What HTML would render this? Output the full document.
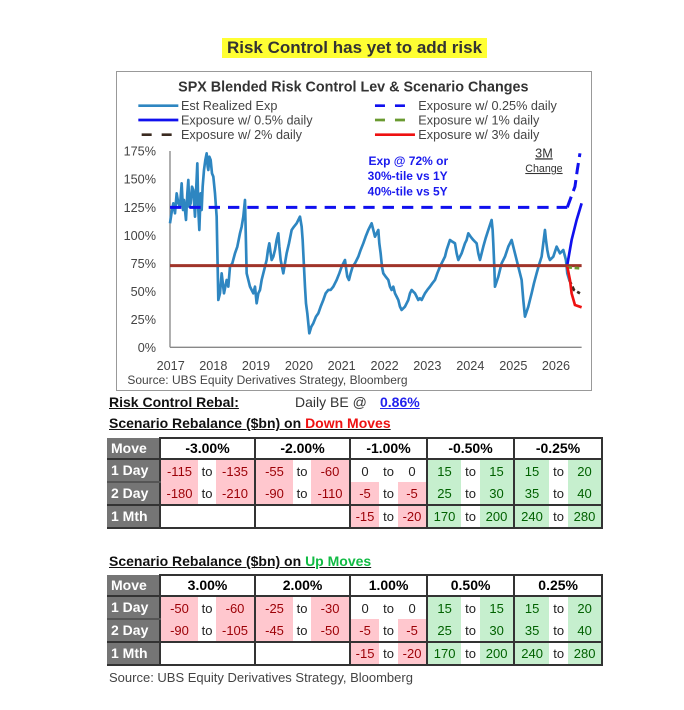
<!DOCTYPE html>
<html><head><meta charset="utf-8"><style>
body{margin:0;width:684px;height:710px;background:#fff;position:relative;font-family:"Liberation Sans",sans-serif;overflow:hidden}
.abs{position:absolute}
table{border-collapse:collapse;table-layout:fixed;position:absolute;left:107px;width:495px;font-size:13px}
td{padding:0;text-align:center;white-space:nowrap;overflow:hidden;height:21px;line-height:21px}
td.m{background:#757575;color:#fff;font-weight:bold;text-align:left;padding-left:4px;font-size:14px;border-right:2px solid #333;border-bottom:2px solid #555}
th{font-size:14px;height:19px;line-height:19px;border:2px solid #333;background:#fff;padding:0}
.p{background:#ffc7ce;color:#9c0006}.g{background:#c6efce;color:#006100}.w{background:#fff;color:#222}
.r{border-right:2px solid #333}
.b td{border-bottom:2px solid #333}
.t{font-weight:bold;text-decoration:underline;font-size:14px;color:#111}
</style></head><body>
<div class="abs" style="left:222px;top:38px;width:265px;height:20px;background:#ffff33"></div>
<div class="abs" style="left:222px;top:38px;width:265px;height:20px;line-height:20px;text-align:center;font-weight:bold;font-size:17px;color:#333">Risk Control has yet to add risk</div>
<div class="abs" style="left:116px;top:71px;width:474px;height:318px;border:1px solid #999"></div>
<svg class="abs" style="left:0;top:0" width="684" height="400">
<g transform="translate(110,60) scale(0.3333)">
<text x="730" y="95" font-size="43" font-weight="bold" fill="#333" text-anchor="middle" font-family="Liberation Sans">SPX Blended Risk Control Lev  &amp; Scenario Changes</text>
<g font-size="38" fill="#444" font-family="Liberation Sans">
<line x1="85" y1="137" x2="205" y2="137" stroke="#2e86c1" stroke-width="8"/><text x="213" y="150">Est Realized Exp</text>
<line x1="85" y1="180" x2="205" y2="180" stroke="#1010ee" stroke-width="8"/><text x="213" y="193">Exposure w/ 0.5% daily</text>
<line x1="95" y1="224" x2="205" y2="224" stroke="#3a2a20" stroke-width="8" stroke-dasharray="30,30"/><text x="213" y="237">Exposure w/ 2% daily</text>
<line x1="795" y1="137" x2="910" y2="137" stroke="#1010ee" stroke-width="8" stroke-dasharray="30,30"/><text x="925" y="150">Exposure w/ 0.25% daily</text>
<line x1="795" y1="180" x2="910" y2="180" stroke="#6a9a30" stroke-width="8" stroke-dasharray="30,30"/><text x="925" y="193">Exposure w/ 1% daily</text>
<line x1="795" y1="224" x2="915" y2="224" stroke="#ee1111" stroke-width="8"/><text x="925" y="237">Exposure w/ 3% daily</text>
</g>
<g font-size="38" fill="#444" text-anchor="end" font-family="Liberation Sans">
<text x="138" y="287">175%</text><text x="138" y="371">150%</text><text x="138" y="456">125%</text><text x="138" y="540">100%</text><text x="138" y="624">75%</text><text x="138" y="708">50%</text><text x="138" y="792">25%</text><text x="138" y="876">0%</text>
</g>
<g font-size="38" fill="#444" text-anchor="middle" font-family="Liberation Sans">
<text x="182" y="930">2017</text><text x="310" y="930">2018</text><text x="438" y="930">2019</text><text x="567" y="930">2020</text><text x="695" y="930">2021</text><text x="824" y="930">2022</text><text x="952" y="930">2023</text><text x="1081" y="930">2024</text><text x="1210" y="930">2025</text><text x="1338" y="930">2026</text>
</g>
<text x="52" y="972" font-size="36" fill="#444" font-family="Liberation Sans">Source: UBS Equity Derivatives Strategy, Bloomberg</text>
<g font-size="36" font-weight="bold" fill="#1a1aee" text-anchor="middle" font-family="Liberation Sans">
<text x="895" y="315">Exp @ 72% or</text><text x="893" y="360">30%-tile vs 1Y</text><text x="893" y="406">40%-tile vs 5Y</text></g>
<text x="1302" y="292" font-size="38" fill="#333" text-anchor="middle" text-decoration="underline" font-family="Liberation Sans">3M</text>
<text x="1302" y="336" font-size="32" fill="#333" text-anchor="middle" text-decoration="underline" font-family="Liberation Sans">Change</text>
<line x1="180" y1="273" x2="180" y2="862" stroke="#888" stroke-width="4"/>
<line x1="180" y1="862" x2="1415" y2="862" stroke="#888" stroke-width="4"/>
<polyline fill="none" stroke="#2e86c1" stroke-width="8" stroke-linejoin="round" points="180,490 186,450 190,430 195,460 200,400 205,430 210,440 215,370 219,450 222,420 228,480 232,400 235,360 238,440 242,430 246,380 250,390 255,470 258,400 262,310 265,450 268,510 272,400 275,450 278,380 282,330 286,300 290,280 293,320 295,330 298,290 302,300 306,340 310,350 313,380 315,400 320,470 325,720 330,700 335,640 342,700 350,660 355,680 360,620 367,610 375,580 382,560 390,520 395,500 400,470 405,420 410,640 415,660 420,680 425,690 430,700 435,680 440,730 445,700 450,690 455,660 460,640 465,620 470,600 474,570 478,550 482,580 485,600 490,590 495,570 500,540 505,520 508,560 512,600 516,620 520,640 525,610 530,580 537,550 545,510 552,500 560,490 565,480 570,470 575,500 578,540 582,620 585,680 588,730 592,760 598,820 604,800 610,790 618,770 625,760 632,740 640,720 647,700 655,690 662,690 670,680 675,670 680,660 688,640 695,620 700,610 705,600 709,630 712,650 717,660 722,640 728,620 735,610 740,600 745,590 752,570 760,550 767,530 775,510 780,500 785,490 790,510 795,530 800,520 805,510 808,550 812,580 816,620 820,640 827,650 835,660 840,680 845,690 850,680 855,700 860,710 865,720 870,740 875,750 880,745 885,740 890,730 895,720 900,700 905,690 910,695 915,700 920,710 925,720 930,715 935,720 940,710 945,700 952,690 960,680 967,670 975,660 982,640 990,620 995,610 1000,600 1005,590 1010,570 1015,555 1020,540 1027,545 1035,550 1040,580 1045,600 1050,590 1055,580 1060,565 1065,550 1070,540 1075,520 1082,530 1090,540 1095,545 1100,550 1105,580 1110,600 1115,580 1120,560 1127,535 1135,510 1140,495 1145,480 1148,510 1150,550 1153,620 1155,680 1160,665 1165,650 1170,630 1175,610 1180,600 1185,590 1190,575 1195,560 1200,550 1205,540 1210,560 1215,580 1220,600 1225,620 1230,640 1235,660 1240,720 1245,770 1250,755 1255,740 1260,720 1265,700 1272,670 1280,640 1287,615 1295,590 1300,550 1305,510 1308,540 1312,570 1316,590 1320,600 1325,595 1330,590 1335,575 1340,560 1345,570 1350,580 1355,575 1360,570 1364,585 1368,600 1372,640 1378,660"/>
<line x1="180" y1="442" x2="1372" y2="442" stroke="#1010ee" stroke-width="9" stroke-dasharray="34,24"/>
<polyline fill="none" stroke="#1010ee" stroke-width="9" stroke-dasharray="34,18" points="1372,442 1395,380 1402,330 1410,280"/>
<polyline fill="none" stroke="#1010ee" stroke-width="8" points="1372,615 1385,540 1400,480 1415,430"/>
<line x1="180" y1="617" x2="1415" y2="617" stroke="#a0342a" stroke-width="9"/>
<line x1="1372" y1="622" x2="1410" y2="625" stroke="#6a9a30" stroke-width="8" stroke-dasharray="14,8"/>
<polyline fill="none" stroke="#3a2a20" stroke-width="8" stroke-dasharray="14,8" points="1378,660 1392,690 1410,700"/>
<polyline fill="none" stroke="#ee1111" stroke-width="8" points="1372,620 1380,660 1385,700 1395,735 1415,742"/>
</g></svg>
<div class="abs t" style="left:109px;top:394px">Risk Control Rebal:</div>
<div class="abs" style="left:295px;top:394px;font-size:14px;color:#333">Daily BE @</div>
<div class="abs" style="left:380px;top:394px;font-size:14px;font-weight:bold;color:#2222ee;text-decoration:underline">0.86%</div>
<div class="abs t" style="left:109px;top:415px">Scenario Rebalance ($bn) on <span style="color:#ee1111">Down Moves</span></div>
<table style="top:437px">
<colgroup><col style="width:53px"><col style="width:38px"><col style="width:18px"><col style="width:39px"><col style="width:38px"><col style="width:18px"><col style="width:39px"><col style="width:29px"><col style="width:19px"><col style="width:29px"><col style="width:34px"><col style="width:19px"><col style="width:34px"><col style="width:35px"><col style="width:19px"><col style="width:34px"></colgroup>
<tr><td class="m" style="border-bottom:2px solid #333;height:19px;line-height:19px">Move</td><th colspan="3">-3.00%</th><th colspan="3">-2.00%</th><th colspan="3">-1.00%</th><th colspan="3">-0.50%</th><th colspan="3">-0.25%</th></tr>
<tr><td class="m">1 Day</td><td class="p">-115</td><td class="w">to</td><td class="p r">-135</td><td class="p">-55</td><td class="w">to</td><td class="p r">-60</td><td class="w">0</td><td class="w">to</td><td class="w r">0</td><td class="g">15</td><td class="w">to</td><td class="g r">15</td><td class="g">15</td><td class="w">to</td><td class="g r">20</td></tr>
<tr class="b"><td class="m" style="border-bottom:2px solid #333">2 Day</td><td class="p">-180</td><td class="w">to</td><td class="p r">-210</td><td class="p">-90</td><td class="w">to</td><td class="p r">-110</td><td class="p">-5</td><td class="w">to</td><td class="p r">-5</td><td class="g">25</td><td class="w">to</td><td class="g r">30</td><td class="g">35</td><td class="w">to</td><td class="g r">40</td></tr>
<tr class="b"><td class="m" style="border-bottom:2px solid #333">1 Mth</td><td class="w" colspan="3" style="border-right:2px solid #333"></td><td class="w r" colspan="3"></td><td class="p">-15</td><td class="w">to</td><td class="p r">-20</td><td class="g">170</td><td class="w">to</td><td class="g r">200</td><td class="g">240</td><td class="w">to</td><td class="g r">280</td></tr>
</table>
<div class="abs t" style="left:109px;top:553px">Scenario Rebalance ($bn) on <span style="color:#11bb44">Up Moves</span></div>
<table style="top:574px">
<colgroup><col style="width:53px"><col style="width:38px"><col style="width:18px"><col style="width:39px"><col style="width:38px"><col style="width:18px"><col style="width:39px"><col style="width:29px"><col style="width:19px"><col style="width:29px"><col style="width:34px"><col style="width:19px"><col style="width:34px"><col style="width:35px"><col style="width:19px"><col style="width:34px"></colgroup>
<tr><td class="m" style="border-bottom:2px solid #333;height:19px;line-height:19px">Move</td><th colspan="3">3.00%</th><th colspan="3">2.00%</th><th colspan="3">1.00%</th><th colspan="3">0.50%</th><th colspan="3">0.25%</th></tr>
<tr><td class="m">1 Day</td><td class="p">-50</td><td class="w">to</td><td class="p r">-60</td><td class="p">-25</td><td class="w">to</td><td class="p r">-30</td><td class="w">0</td><td class="w">to</td><td class="w r">0</td><td class="g">15</td><td class="w">to</td><td class="g r">15</td><td class="g">15</td><td class="w">to</td><td class="g r">20</td></tr>
<tr class="b"><td class="m" style="border-bottom:2px solid #333">2 Day</td><td class="p">-90</td><td class="w">to</td><td class="p r">-105</td><td class="p">-45</td><td class="w">to</td><td class="p r">-50</td><td class="p">-5</td><td class="w">to</td><td class="p r">-5</td><td class="g">25</td><td class="w">to</td><td class="g r">30</td><td class="g">35</td><td class="w">to</td><td class="g r">40</td></tr>
<tr class="b"><td class="m" style="border-bottom:2px solid #333">1 Mth</td><td class="w" colspan="3" style="border-right:2px solid #333"></td><td class="w r" colspan="3"></td><td class="p">-15</td><td class="w">to</td><td class="p r">-20</td><td class="g">170</td><td class="w">to</td><td class="g r">200</td><td class="g">240</td><td class="w">to</td><td class="g r">280</td></tr>
</table>
<div class="abs" style="left:109px;top:670px;font-size:13px;color:#444">Source: UBS Equity Derivatives Strategy, Bloomberg</div>
</body></html>
